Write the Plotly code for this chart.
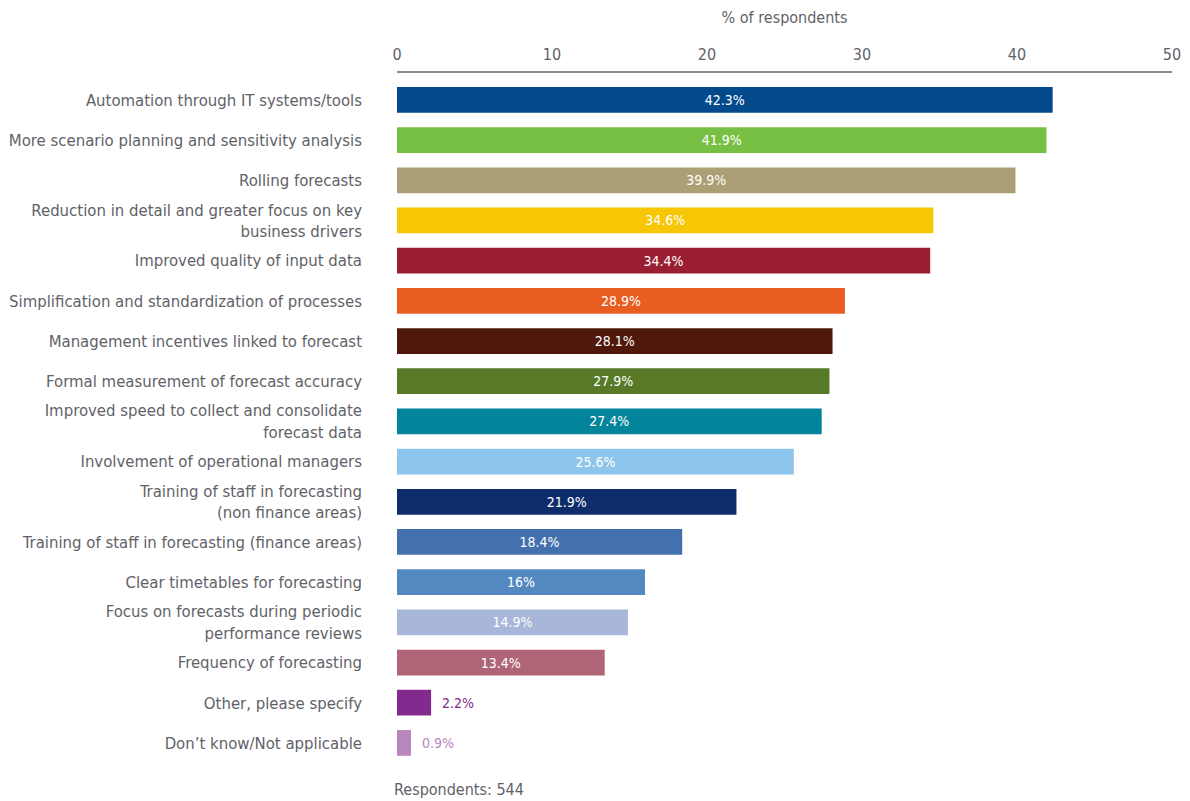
import plotly.graph_objects as go

categories = [
    "Automation through IT systems/tools",
    "More scenario planning and sensitivity analysis",
    "Rolling forecasts",
    "Reduction in detail and greater focus on key<br>business drivers",
    "Improved quality of input data",
    "Simplification and standardization of processes",
    "Management incentives linked to forecast",
    "Formal measurement of forecast accuracy",
    "Improved speed to collect and consolidate<br>forecast data",
    "Involvement of operational managers",
    "Training of staff in forecasting<br>(non finance areas)",
    "Training of staff in forecasting (finance areas)",
    "Clear timetables for forecasting",
    "Focus on forecasts during periodic<br>performance reviews",
    "Frequency of forecasting",
    "Other, please specify",
    "Don\u2019t know/Not applicable",
]
values = [42.3, 41.9, 39.9, 34.6, 34.4, 28.9, 28.1, 27.9, 27.4, 25.6, 21.9, 18.4, 16, 14.9, 13.4, 2.2, 0.9]
colors = ["#034a8c", "#77c043", "#ac9f76", "#f7c605", "#9a1e32", "#e95e20", "#4f180a",
          "#587a28", "#02849a", "#8ec5ec", "#0e2d6c", "#4471ae", "#5488c0", "#a8b6da",
          "#b06577", "#822a8e", "#b985bd"]
x_ticks = [0, 10, 20, 30, 40, 50]

FONT = "DejaVu Sans Condensed, Liberation Sans Narrow, sans-serif"

inside = [v >= 5 for v in values]
text_pos = ["inside" if i else "outside" for i in inside]
text_colors = ["white" if i else c for i, c in zip(inside, colors)]
labels = [f"{v:g}%" if i else f"\u00a0\u00a0{v:g}%" for v, i in zip(values, inside)]

fig = go.Figure(go.Bar(
    x=values,
    y=categories,
    orientation="h",
    marker=dict(color=colors, line=dict(width=0)),
    text=labels,
    textposition=text_pos,
    insidetextanchor="middle",
    textfont=dict(family=FONT, size=14, color=text_colors),
    outsidetextfont=dict(family=FONT, size=14, color=text_colors),
    insidetextfont=dict(family=FONT, size=14, color=text_colors),
    cliponaxis=False,
    width=0.64,
))

# page body has an 8px margin, so the figure is sized to the visible area
fig.update_layout(
    width=1182, height=793,
    margin=dict(l=389, r=18, t=65, b=38),
    paper_bgcolor="white", plot_bgcolor="white",
    showlegend=False,
    font=dict(family=FONT, color="#5f6268", size=16.6),
)
fig.update_xaxes(
    side="top", range=[0, 50], tickvals=x_ticks,
    automargin=False,
    showgrid=False, zeroline=False,
    showline=True, linecolor="#8a8a8a", linewidth=1.5,
    ticks="", ticklabelstandoff=5,
    tickfont=dict(size=16, color="#5f6268", family=FONT),
    title=dict(text="% of respondents", font=dict(size=16, color="#5f6268", family=FONT), standoff=17),
)
fig.update_yaxes(
    categoryorder="array", categoryarray=categories,
    range=[len(categories) - 0.5, -0.67],
    automargin=False,
    showgrid=False, zeroline=False, showline=False, ticks="",
    ticklabelstandoff=34,
    tickfont=dict(size=16.6, color="#5f6268", family=FONT),
)
fig.add_annotation(
    text="Respondents: 544", xref="paper", yref="paper",
    x=-0.006, y=-0.022, xanchor="left", yanchor="top", showarrow=False,
    font=dict(size=16, color="#5f6268", family=FONT),
)

fig.write_html("out.html")
